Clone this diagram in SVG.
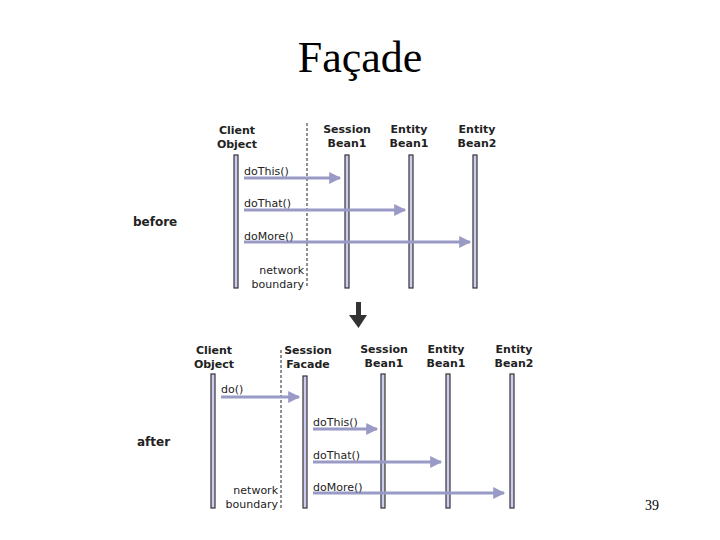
<svg xmlns="http://www.w3.org/2000/svg" width="720" height="540" viewBox="0 0 720 540">
<style>
.title{font-family:"Liberation Serif",serif;font-size:44px;fill:#000}
.pg{font-family:"Liberation Serif",serif;font-size:14px;fill:#000}
.hd{font-family:"DejaVu Sans",sans-serif;font-size:11px;font-weight:bold;fill:#222;text-anchor:middle}
.msg{font-family:"DejaVu Sans",sans-serif;font-size:11px;fill:#222}
.nb{font-family:"DejaVu Sans",sans-serif;font-size:11px;fill:#222;text-anchor:end}
.side{font-family:"DejaVu Sans",sans-serif;font-size:12px;font-weight:bold;fill:#222}
.life{fill:#ccccf2;stroke:#333;stroke-width:1.2}
.bnd{stroke:#222;stroke-width:1;stroke-dasharray:3,2;fill:none}
.call{stroke:#9a9ac6;stroke-width:3;fill:none;marker-end:url(#ah)}
</style>
<defs>
<marker id="ah" viewBox="0 0 10 10" refX="9" refY="5" markerWidth="5" markerHeight="4" markerUnits="strokeWidth" orient="auto">
<path d="M0,0 L10,5 L0,10 Z" fill="#9a9ac6"/>
</marker>
</defs>
<rect width="720" height="540" fill="#fff"/>
<text class="title" x="360" y="72" text-anchor="middle">Façade</text>
<text class="pg" x="645" y="510">39</text>

<g id="before">
<text class="side" x="133" y="226">before</text>
<g id="b-client"><text class="hd" x="237" y="134">Client</text><text class="hd" x="237" y="148">Object</text><rect class="life" x="234" y="155" width="4" height="133"/></g>
<g id="b-session1"><text class="hd" x="347" y="133">Session</text><text class="hd" x="347" y="147">Bean1</text><rect class="life" x="345" y="155" width="4" height="133"/></g>
<g id="b-entity1"><text class="hd" x="409" y="133">Entity</text><text class="hd" x="409" y="147">Bean1</text><rect class="life" x="409" y="155" width="4" height="133"/></g>
<g id="b-entity2"><text class="hd" x="477" y="133">Entity</text><text class="hd" x="477" y="147">Bean2</text><rect class="life" x="473" y="155" width="4" height="133"/></g>
<g id="b-boundary"><line class="bnd" x1="307" y1="123" x2="307" y2="288"/><text class="nb" x="304" y="274">network</text><text class="nb" x="304" y="288">boundary</text></g>
<g id="b-connectors">
<line class="call" x1="244" y1="178" x2="340" y2="178"/>
<line class="call" x1="244" y1="210" x2="405" y2="210"/>
<line class="call" x1="244" y1="242" x2="470" y2="242"/>
<text class="msg" x="244" y="175">doThis()</text>
<text class="msg" x="244" y="207">doThat()</text>
<text class="msg" x="244" y="240">doMore()</text>
</g>
</g>

<g id="down-arrow"><path d="M356,302 H361 V315 H367 L358.5,328 L349,315 H356 Z" fill="#333"/></g>

<g id="after">
<text class="side" x="137" y="446">after</text>
<g id="a-client"><text class="hd" x="214" y="354">Client</text><text class="hd" x="214" y="368">Object</text><rect class="life" x="211" y="374" width="4" height="134"/></g>
<g id="a-facade"><text class="hd" x="308" y="354">Session</text><text class="hd" x="308" y="368">Facade</text><rect class="life" x="303" y="376" width="4" height="132"/></g>
<g id="a-session1"><text class="hd" x="384" y="353">Session</text><text class="hd" x="384" y="367">Bean1</text><rect class="life" x="381" y="374" width="4" height="134"/></g>
<g id="a-entity1"><text class="hd" x="446" y="353">Entity</text><text class="hd" x="446" y="367">Bean1</text><rect class="life" x="446" y="374" width="4" height="134"/></g>
<g id="a-entity2"><text class="hd" x="514" y="353">Entity</text><text class="hd" x="514" y="367">Bean2</text><rect class="life" x="510" y="374" width="4" height="134"/></g>
<g id="a-boundary"><line class="bnd" x1="281" y1="350" x2="281" y2="508"/><text class="nb" x="278" y="494">network</text><text class="nb" x="278" y="508">boundary</text></g>
<g id="a-connectors">
<line class="call" x1="221" y1="397" x2="299" y2="397"/>
<line class="call" x1="313" y1="429" x2="377" y2="429"/>
<line class="call" x1="313" y1="462" x2="441" y2="462"/>
<line class="call" x1="313" y1="493" x2="504" y2="493"/>
<text class="msg" x="221" y="393">do()</text>
<text class="msg" x="313" y="426">doThis()</text>
<text class="msg" x="313" y="459">doThat()</text>
<text class="msg" x="313" y="491">doMore()</text>
</g>
</g>
</svg>
